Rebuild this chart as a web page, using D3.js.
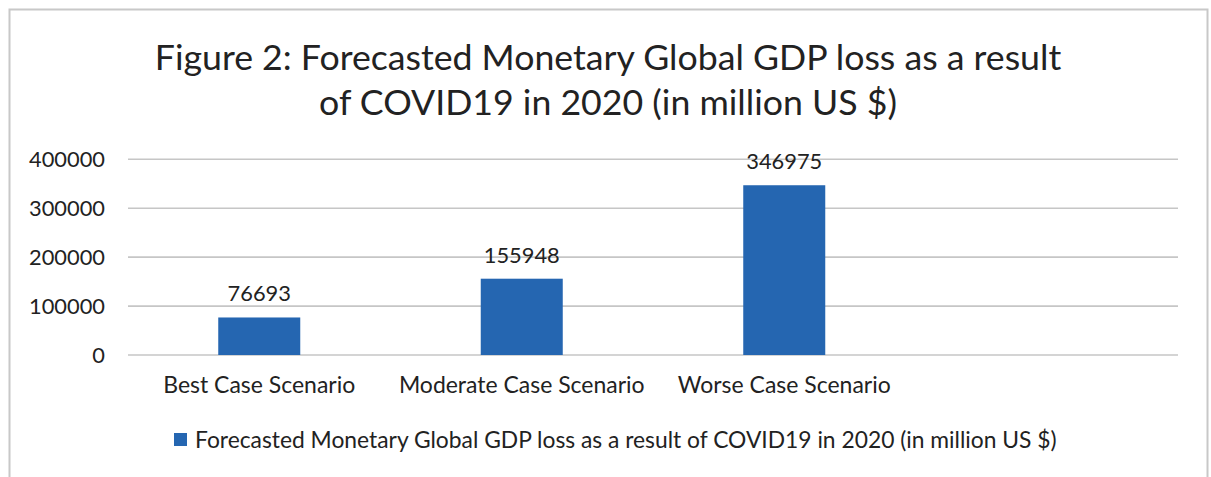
<!DOCTYPE html>
<html><head><meta charset="utf-8">
<script src="https://cdn.jsdelivr.net/npm/d3@7"></script>
<style>body{margin:0;background:#fff}svg{display:block}text{font-family:Lato,"Open Sans",sans-serif;fill:#222}</style>
</head><body>
<script>
const titleLines = ["Figure 2: Forecasted Monetary Global GDP loss as a result", "of COVID19 in 2020 (in million US $)"];
const categories = ["Best Case Scenario", "Moderate Case Scenario", "Worse Case Scenario", ""];
const values = [76693, 155948, 346975, null];
const yTicks = [0, 100000, 200000, 300000, 400000];
const seriesName = "Forecasted Monetary Global GDP loss as a result of COVID19 in 2020 (in million US $)";

const W = 1211, H = 477;
const svg = d3.select("body").append("svg").attr("width", W).attr("height", H);
svg.append("rect").attr("x", 9.5).attr("y", 9.5).attr("width", 1198).attr("height", 480)
  .attr("fill", "#fff").attr("stroke", "#c8c8c8").attr("stroke-width", 2);

function fit(sel, target) {
  const n = sel.node(); const fs = parseFloat(sel.attr("font-size"));
  const w = n.getComputedTextLength(); sel.attr("font-size", (fs * target / w).toFixed(2));
}

const x = d3.scaleBand().domain(categories).range([128, 1178]).paddingInner(0.6876).paddingOuter(0.3438);
const y = d3.scaleLinear().domain([0, 400000]).range([355, 159.3]);

// title
const t1 = svg.append("text").attr("x", 608).attr("y", 70).attr("text-anchor", "middle").attr("font-size", 33).text(titleLines[0]);
fit(t1, 907);
const t2 = svg.append("text").attr("x", 608).attr("y", 115).attr("text-anchor", "middle").attr("font-size", 33).text(titleLines[1]);
t2.attr("font-size", t1.attr("font-size"));

// gridlines
svg.append("g").selectAll("line").data(yTicks).join("line")
  .attr("x1", 128).attr("x2", 1178).attr("y1", d => y(d)).attr("y2", d => y(d))
  .attr("stroke", "#c6c6c6").attr("stroke-width", 1.6);

// y axis labels
const yAxis = svg.append("g").attr("transform", "translate(128,0)")
  .call(d3.axisLeft(y).tickValues(yTicks).tickSize(0).tickPadding(23).tickFormat(d3.format("d")));
yAxis.select(".domain").remove();
yAxis.selectAll("text").attr("font-size", 19).attr("font-family", "Lato").attr("fill", "#222");
fit(yAxis.selectAll("text").filter(d => d === 400000), 76);
const yfs = yAxis.selectAll("text").filter(d => d === 400000).attr("font-size");
yAxis.selectAll("text").attr("font-size", yfs);

// x axis labels
const xAxis = svg.append("g").attr("transform", "translate(0,355)")
  .call(d3.axisBottom(x).tickSize(0).tickPadding(22));
xAxis.select(".domain").remove();
xAxis.selectAll("text").attr("font-size", 19).attr("font-family", "Lato").attr("fill", "#222");
fit(xAxis.selectAll("text").filter(d => d === categories[0]), 192);
const xfs = xAxis.selectAll("text").filter(d => d === categories[0]).attr("font-size");
xAxis.selectAll("text").attr("font-size", xfs);

// bars
const data = categories.map((c, i) => ({c, v: values[i]})).filter(d => d.v != null);
svg.append("g").selectAll("rect").data(data).join("rect")
  .attr("x", d => x(d.c)).attr("width", x.bandwidth())
  .attr("y", d => y(d.v)).attr("height", d => y(0) - y(d.v)).attr("fill", "#2566b1");

// data labels
svg.append("g").selectAll("text").data(data).join("text")
  .attr("x", d => x(d.c) + x.bandwidth() / 2).attr("y", d => y(d.v) - 16)
  .attr("text-anchor", "middle").attr("font-size", yfs).text(d => d.v);

// legend
svg.append("rect").attr("x", 174).attr("y", 433).attr("width", 13).attr("height", 13).attr("fill", "#2566b1");
const lt = svg.append("text").attr("x", 195).attr("y", 448).attr("font-size", 19).text(seriesName);
fit(lt, 862);
</script>
</body></html>
